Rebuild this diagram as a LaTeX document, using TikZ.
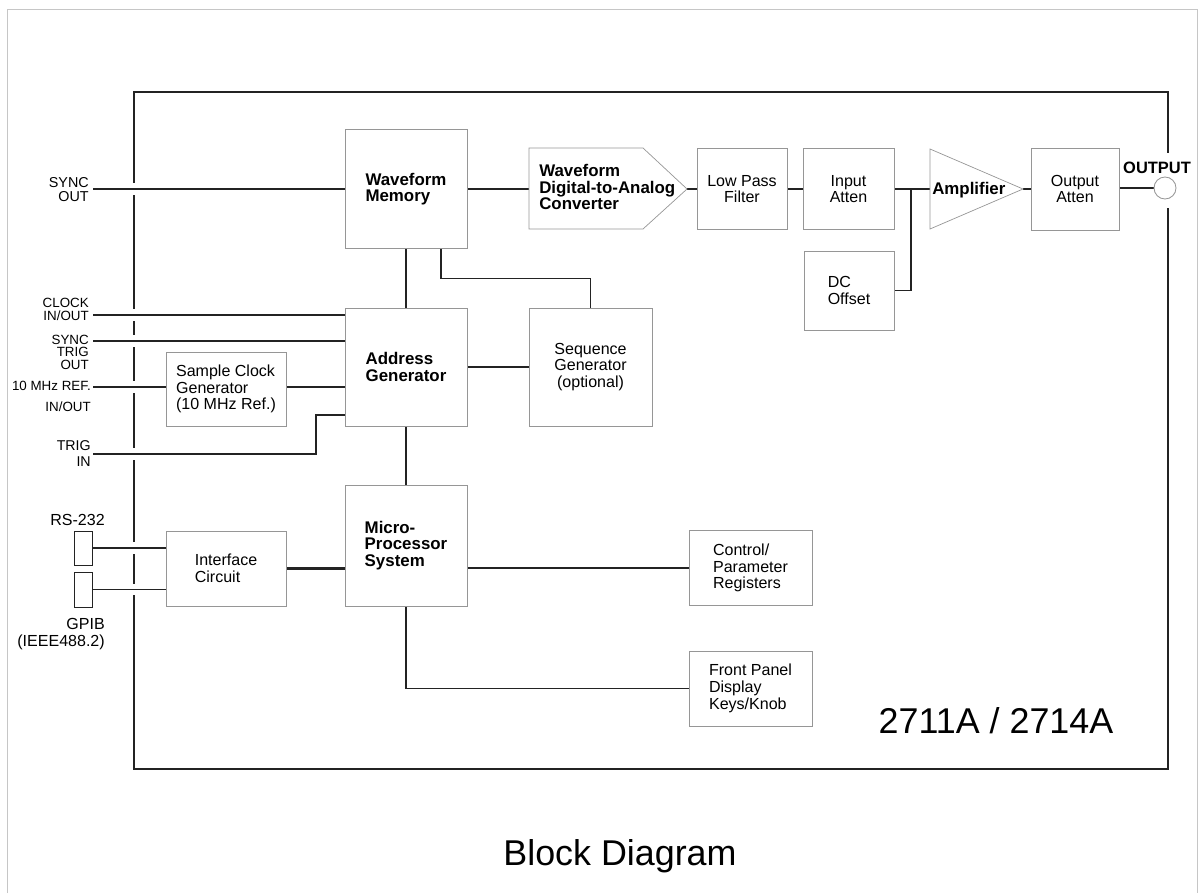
\documentclass[tikz,border=0pt]{standalone}
\definecolor{BoxGray}{RGB}{150,150,150}
\definecolor{WireBlack}{RGB}{35,35,35}
\usepackage{fontspec}
\setmainfont{Liberation Sans}
\usepackage{tikz}
\usetikzlibrary{calc, backgrounds}

\begin{document}
\begin{tikzpicture}[x=0.025cm, y=-0.025cm,
    boxsize/.style 2 args={minimum width=#1*0.025cm, minimum height=#2*0.025cm},
    blk/.style={draw=BoxGray, line width=0.5pt, inner sep=1pt, align=center,
                font=\fontsize{11.4}{11.9}\selectfont},
    boldblk/.style={font=\fontsize{12}{11.6}\selectfont\bfseries, align=left},
    outline/.style={draw=BoxGray, line width=0.5pt},
    wire/.style={WireBlack, line width=0.9pt},
    bus/.style={WireBlack, line width=1.5pt},
    gap/.style={preaction={draw=white, line width=8pt}},
    pinlbl/.style={anchor=east, align=right, inner sep=0pt, font=\fontsize{9.5}{9.3}\selectfont},
    jack/.style={draw=WireBlack, line width=0.6pt, inner sep=0pt}]
  \useasboundingbox (0,0) rectangle (1201,893);

  % main blocks
  \node[blk, boldblk, boxsize={122}{119}] (wm) at (406,189) {Waveform\\Memory};
  \node[blk, boldblk, boxsize={122}{118}] (ag) at (406,367) {Address\\Generator};
  \node[blk, boldblk, boxsize={122}{121}] (mps) at (406,545.5) {Micro-\\Processor\\System};
  \node[blk, boxsize={123}{118}] (sg) at (590.5,367) {Sequence\\Generator\\(optional)};
  \node[blk, align=left, boxsize={120}{74}] (scg) at (226,389) {Sample Clock\\Generator\\(10 MHz Ref.)};
  \node[blk, align=left, boxsize={120}{75}] (ic) at (226,568.5) {Interface\\Circuit};
  \node[blk, align=left, boxsize={123}{75}] (cpr) at (750.5,568) {Control/\\Parameter\\Registers};
  \node[blk, align=left, boxsize={123}{75}] (fp) at (750.5,688.5) {Front Panel\\Display\\Keys/Knob};

  % output chain
  \node[blk, boxsize={90}{81}] (lpf) at (742,189) {Low Pass\\Filter};
  \node[blk, boxsize={91}{81}] (ia) at (848.5,189) {Input\\Atten};
  \node[blk, align=left, boxsize={90}{79}] (dc) at (849,290.5) {DC\\Offset};
  \node[blk, boxsize={88}{82}] (oa) at (1075,189) {Output\\Atten};

  \coordinate (dacNW) at (529,148);
  \coordinate (dacNE) at (643,148);
  \coordinate (dacTip) at (687,189);
  \coordinate (dacSE) at (643,229);
  \coordinate (dacSW) at (529,229);
  \coordinate (dacW) at (529,189);
  \draw[outline] (dacNW) -- (dacNE) -- (dacTip) -- (dacSE) -- (dacSW) -- cycle;
  \node[boldblk, anchor=west, inner sep=0pt] (dac) at (539,187) {Waveform\\Digital-to-Analog\\Converter};

  \coordinate (ampN) at (930,149);
  \coordinate (ampS) at (930,229);
  \coordinate (ampTip) at (1023,189);
  \coordinate (ampW) at (930,189);
  \draw[outline] (ampN) -- (ampTip) -- (ampS) -- cycle;
  \node[boldblk, anchor=west, inner sep=0pt] (amp) at (932,190) {Amplifier};

  \coordinate (jct) at (911,189);

  \node[circle, draw=BoxGray, line width=0.6pt, fill=white, inner sep=0pt,
        minimum size=22*0.025cm] (out) at (1165,188) {};
  \node[font=\fontsize{11.7}{12}\selectfont\bfseries] (outlbl) at (1157,167.5) {OUTPUT};

  % connectors
  \node[jack, boxsize={18}{34}] (rs) at (83,548) {};
  \node[jack, boxsize={18}{35}] (gpib) at (83,589.5) {};
  \node[font=\fontsize{11.4}{12}\selectfont] (lrs) at (77.5,520) {RS-232};
  \node[pinlbl, font=\fontsize{11.4}{12}\selectfont] (lgpib) at (105,634) {GPIB\\(IEEE488.2)};

  % panel signals
  \coordinate (pSyncOut) at (93,189);
  \coordinate (pClock) at (93,315);
  \coordinate (pSyncTrig) at (93,341);
  \coordinate (pRef) at (93,387);
  \coordinate (pTrig) at (93,454);
  \coordinate (trigJog) at (316,415);
  \node[pinlbl, font=\fontsize{10.2}{10}\selectfont] (lsyncout) at (89,190) {SYNC\\OUT};
  \node[pinlbl] (lclock) at (89,309) {CLOCK\\IN/OUT};
  \node[pinlbl, font=\fontsize{9.5}{8.9}\selectfont] (lsynctrig) at (89,352) {SYNC\\TRIG\\OUT};
  \node[pinlbl] (lref) at (91,396) {10 MHz REF.\\[5.5pt]IN/OUT};
  \node[pinlbl, font=\fontsize{10.1}{11.4}\selectfont] (ltrig) at (91,454) {TRIG\\IN};

  \node[font=\fontsize{25.5}{26}\selectfont, anchor=base] (model) at (996,733) {2711A / 2714A};
  \node[font=\fontsize{25.5}{26}\selectfont, anchor=base] (title) at (620,865) {Block Diagram};

  \begin{scope}[on background layer]
    \draw[gray!45, line width=0.5pt] (7,893) |- (1197,9) -- (1197,893);
    % frame is open round the output jack
    \draw[WireBlack, line width=1.6pt] (1168,153) -- (1168,92) -- (134,92) -- (134,769)
      -- (1168,769) -- (1168,208);

    \draw[wire, gap] (pSyncOut) -- (wm.west |- pSyncOut);
    \draw[wire, gap] (pClock) -- (ag.west |- pClock);
    \draw[wire, gap] (pSyncTrig) -- (ag.west |- pSyncTrig);
    \draw[wire, gap] (pRef) -- (scg.west |- pRef);
    \draw[wire] (scg.east |- pRef) -- (ag.west |- pRef);
    \draw[wire, gap] (pTrig) -| (trigJog) -- (trigJog -| ag.west);
    \draw[wire, gap] (rs.east) -- (ic.west |- rs.east);
    \draw[wire, gap] (gpib.east) -- (ic.west |- gpib.east);

    \draw[bus] (wm.east) -- (dacW);
    \draw[wire] (dacTip) -- (lpf.west);
    \draw[wire] (lpf) -- (ia);
    \draw[wire] (ia) -- (ampW);
    \draw[wire] (dc.east) -| (jct);
    \draw[wire] (ampTip) -- (oa.west);
    \draw[wire] (oa.east |- out) -- (out);

    \draw[bus] (wm) -- (ag);
    \draw[wire] ($(wm.south)+(35,0)$) -- ++(0,30) -| (sg.north);
    \draw[wire] (ag) -- (sg);
    \draw[bus] (ag) -- (mps);
    \draw[bus] (ic.east) -- (ic.east -| mps.west);
    \draw[bus] (mps.east |- cpr.west) -- (cpr.west);
    \draw[wire] (mps.south) |- (fp.west);
  \end{scope}
\end{tikzpicture}
\end{document}
